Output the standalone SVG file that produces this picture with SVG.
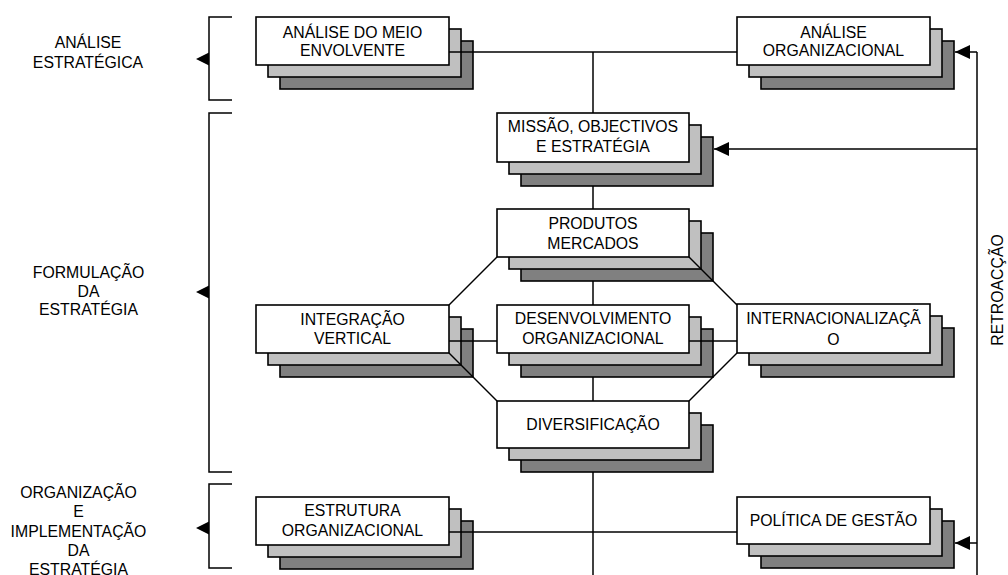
<svg xmlns="http://www.w3.org/2000/svg" width="1008" height="575" viewBox="0 0 1008 575">
  <style>
    .bg { fill: #ffffff; }
    .f { fill: #ffffff; stroke: #000; stroke-width: 1.6; }
    .s2 { fill: #c0c0c0; stroke: #000; stroke-width: 1.6; }
    .s3 { fill: #808080; stroke: #000; stroke-width: 1.6; }
    .ln { fill: none; stroke: #000; stroke-width: 1.5; }
    .tri { fill: #000; }
    text { font-family: "Liberation Sans", Arial, sans-serif; font-size: 15.8px; fill: #000; text-anchor: middle; }
  </style>
  <defs>
    <marker id="ah" markerUnits="userSpaceOnUse" markerWidth="15" markerHeight="14" viewBox="0 0 15 14" refX="15" refY="7" orient="auto">
      <path d="M0,0 L15,7 L0,14 z" fill="#000"/>
    </marker>
  </defs>
  <rect class="bg" x="0" y="0" width="1008" height="575"/>

  <!-- phase labels with brackets -->
  <g id="phase-analise">
    <text x="88" y="48">ANÁLISE</text>
    <text x="88" y="68">ESTRATÉGICA</text>
    <path class="ln" d="M232,17 H209 V100 H232"/>
    <polygon class="tri" points="196,59 209,52.5 209,65.5"/>
  </g>
  <g id="phase-formulacao">
    <text x="88.5" y="278">FORMULAÇÃO</text>
    <text x="88.5" y="296.5">DA</text>
    <text x="88.5" y="315">ESTRATÉGIA</text>
    <path class="ln" d="M232,113 H209 V472 H232"/>
    <polygon class="tri" points="196,292 209,285.5 209,298.5"/>
  </g>
  <g id="phase-implementacao">
    <text x="78.5" y="498">ORGANIZAÇÃO</text>
    <text x="78.5" y="517">E</text>
    <text x="78.5" y="537">IMPLEMENTAÇÃO</text>
    <text x="78.5" y="556">DA</text>
    <text x="78.5" y="575">ESTRATÉGIA</text>
    <path class="ln" d="M232,484 H209 V568 H232"/>
    <polygon class="tri" points="196,528 209,521.5 209,534.5"/>
  </g>

  <!-- stacked nodes: back, middle, front -->
  <g id="analise-meio">
    <rect class="s3" x="280" y="41" width="193" height="48"/>
    <rect class="s2" x="268" y="29" width="193" height="48"/>
    <rect class="f" x="256" y="17" width="193" height="48"/>
    <text x="352.5" y="37.5">ANÁLISE DO MEIO</text>
    <text x="352.5" y="55.5">ENVOLVENTE</text>
  </g>
  <g id="analise-organizacional">
    <rect class="s3" x="761" y="41" width="193" height="48"/>
    <rect class="s2" x="749" y="29" width="193" height="48"/>
    <rect class="f" x="737" y="17" width="193" height="48"/>
    <text x="833.5" y="37.5">ANÁLISE</text>
    <text x="833.5" y="55.5">ORGANIZACIONAL</text>
  </g>
  <g id="missao">
    <rect class="s3" x="521" y="137" width="192" height="49"/>
    <rect class="s2" x="509" y="125" width="192" height="49"/>
    <rect class="f" x="497" y="113" width="192" height="49"/>
    <text x="593" y="132">MISSÃO, OBJECTIVOS</text>
    <text x="593" y="152">E ESTRATÉGIA</text>
  </g>
  <g id="produtos-mercados">
    <rect class="s3" x="521" y="233" width="192" height="48"/>
    <rect class="s2" x="509" y="221" width="192" height="48"/>
    <rect class="f" x="497" y="209" width="192" height="48"/>
    <text x="593" y="228.5">PRODUTOS</text>
    <text x="593" y="248.5">MERCADOS</text>
  </g>
  <g id="integracao-vertical">
    <rect class="s3" x="280" y="329" width="193" height="48"/>
    <rect class="s2" x="268" y="317" width="193" height="48"/>
    <rect class="f" x="256" y="305" width="193" height="48"/>
    <text x="352.5" y="324.5">INTEGRAÇÃO</text>
    <text x="352.5" y="344">VERTICAL</text>
  </g>
  <g id="desenvolvimento-organizacional">
    <rect class="s3" x="521" y="329" width="192" height="48"/>
    <rect class="s2" x="509" y="317" width="192" height="48"/>
    <rect class="f" x="497" y="305" width="192" height="48"/>
    <text x="593" y="324">DESENVOLVIMENTO</text>
    <text x="593" y="344">ORGANIZACIONAL</text>
  </g>
  <g id="internacionalizacao">
    <rect class="s3" x="761" y="328" width="193" height="49"/>
    <rect class="s2" x="749" y="316" width="193" height="49"/>
    <rect class="f" x="737" y="304" width="193" height="49"/>
    <text x="833.5" y="324">INTERNACIONALIZAÇÃ</text>
    <text x="833.5" y="345">O</text>
  </g>
  <g id="diversificacao">
    <rect class="s3" x="521" y="425" width="192" height="47"/>
    <rect class="s2" x="509" y="413" width="192" height="47"/>
    <rect class="f" x="497" y="401" width="192" height="47"/>
    <text x="593" y="430">DIVERSIFICAÇÃO</text>
  </g>
  <g id="estrutura-organizacional">
    <rect class="s3" x="280" y="521" width="193" height="48"/>
    <rect class="s2" x="268" y="509" width="193" height="48"/>
    <rect class="f" x="256" y="497" width="193" height="48"/>
    <text x="352.5" y="516">ESTRUTURA</text>
    <text x="352.5" y="536">ORGANIZACIONAL</text>
  </g>
  <g id="politica-gestao">
    <rect class="s3" x="761" y="521" width="193" height="47"/>
    <rect class="s2" x="749" y="509" width="193" height="47"/>
    <rect class="f" x="737" y="497" width="193" height="47"/>
    <text x="833.5" y="525.5">POLÍTICA DE GESTÃO</text>
  </g>

  <!-- connectors -->
  <g id="connectors">
    <!-- analysis row -->
    <path class="ln" d="M449,52 H737"/>
    <!-- central spine -->
    <path class="ln" d="M593,52 V113"/>
    <path class="ln" d="M593,186 V209"/>
    <path class="ln" d="M593,281 V305"/>
    <path class="ln" d="M593,377 V401"/>
    <path class="ln" d="M593,472 V575"/>
    <!-- octagon around the development node -->
    <path class="ln" d="M449,305 L497,257"/>
    <path class="ln" d="M689,257 L737,305"/>
    <path class="ln" d="M449,353 L497,401"/>
    <path class="ln" d="M737,353 L689,401"/>
    <path class="ln" d="M449,341 H497"/>
    <path class="ln" d="M689,341 H737"/>
    <!-- implementation row -->
    <path class="ln" d="M449,532 H737"/>
    <!-- feedback loop -->
    <path class="ln" d="M977,52 V575"/>
    <path class="ln" d="M977,52 H955" marker-end="url(#ah)"/>
    <path class="ln" d="M977,149 H714" marker-end="url(#ah)"/>
    <path class="ln" d="M977,543 H955" marker-end="url(#ah)"/>
  </g>

  <text id="retroaccao" transform="translate(1003,290) rotate(-90)" x="0" y="0">RETROACÇÃO</text>
</svg>
